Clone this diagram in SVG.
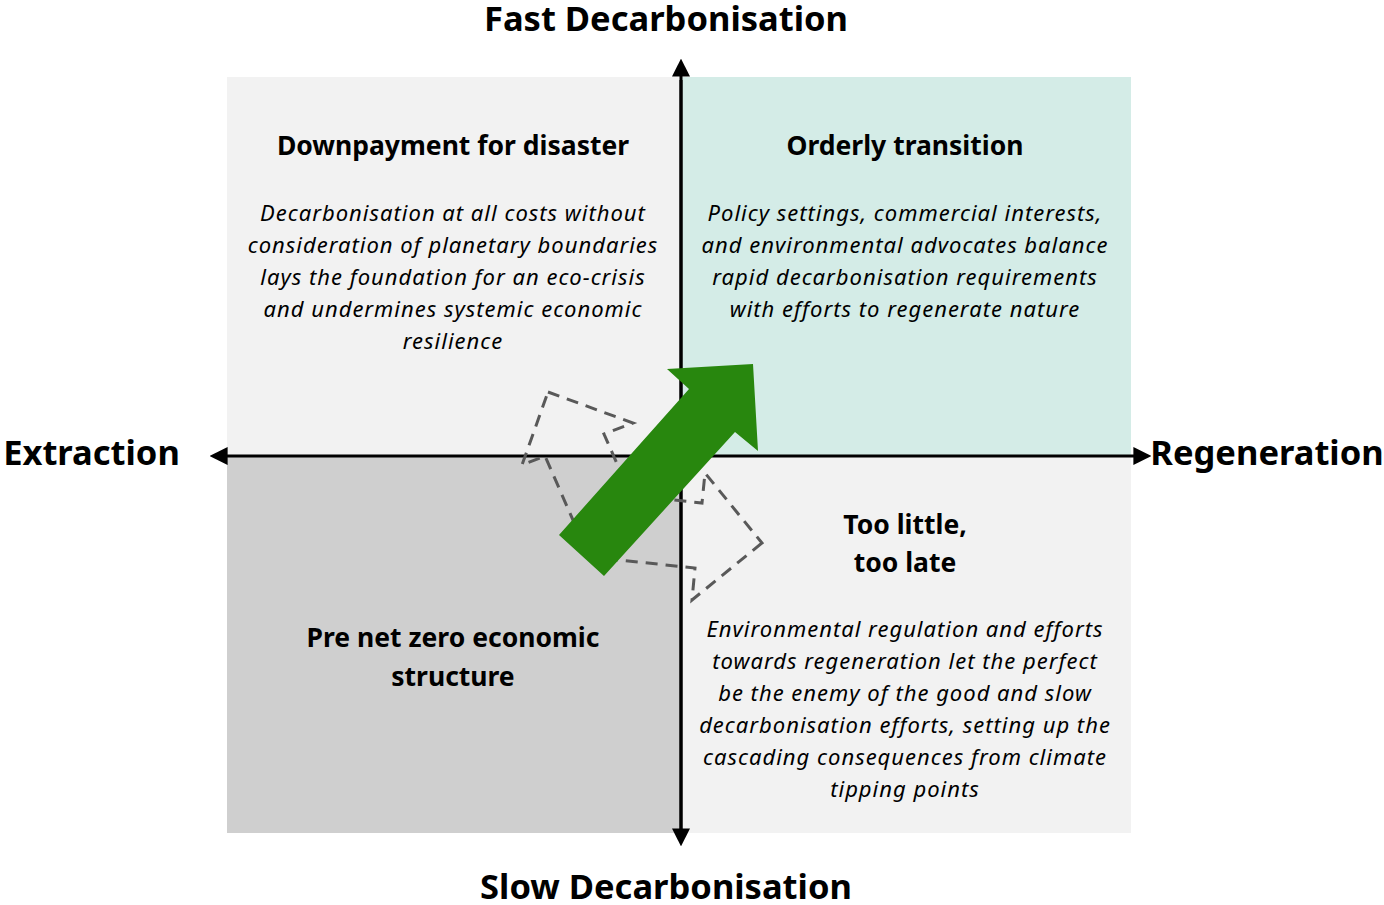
<svg xmlns="http://www.w3.org/2000/svg" width="1384" height="905" viewBox="0 0 1384 905">
  <defs>
    <style>
      .axis { stroke: #000; stroke-width: 3; fill: none; }
      .head { fill: #000; }
      .axis-label { font-family: "Noto Sans", "Open Sans", sans-serif; font-weight: bold; font-size: 34.5px; fill: #000; text-anchor: middle; }
      .title { font-family: "Noto Sans", "Open Sans", sans-serif; font-weight: bold; font-size: 26.5px; fill: #000; text-anchor: middle; }
      .body { font-family: "Noto Sans", "Open Sans", sans-serif; font-style: italic; font-size: 22px; letter-spacing: 1px; fill: #000; text-anchor: middle; }
      .alt { fill: none; stroke: #595959; stroke-width: 3; stroke-dasharray: 12 8; stroke-linejoin: miter; }
      .move { fill: #28870e; }
    </style>
    <marker id="tip" viewBox="0 0 10 10" refX="2" refY="5" markerWidth="6" markerHeight="6" markerUnits="strokeWidth" orient="auto">
      <path d="M0,0 L10,5 L0,10 Z" class="head"/>
    </marker>
  </defs>

  <rect width="1384" height="905" fill="#ffffff"/>

  <!-- quadrants -->
  <g id="downpayment">
    <rect x="227" y="77" width="454" height="379" fill="#f2f2f2"/>
    <text class="title" x="453" y="155">Downpayment for disaster</text>
    <text class="body" x="453" y="221">Decarbonisation at all costs without</text>
    <text class="body" x="453" y="253">consideration of planetary boundaries</text>
    <text class="body" x="453" y="285">lays the foundation for an eco-crisis</text>
    <text class="body" x="453" y="317">and undermines systemic economic</text>
    <text class="body" x="453" y="349">resilience</text>
  </g>

  <g id="orderly">
    <rect x="681" y="77" width="450" height="379" fill="#d4ece7"/>
    <text class="title" x="905" y="155">Orderly transition</text>
    <text class="body" x="905" y="221">Policy settings, commercial interests,</text>
    <text class="body" x="905" y="253">and environmental advocates balance</text>
    <text class="body" x="905" y="285">rapid decarbonisation requirements</text>
    <text class="body" x="905" y="317">with efforts to regenerate nature</text>
  </g>

  <g id="pre-net-zero">
    <rect x="227" y="456" width="454" height="377" fill="#cfcfcf"/>
    <text class="title" x="453" y="647">Pre net zero economic</text>
    <text class="title" x="453" y="686">structure</text>
  </g>

  <g id="too-little">
    <rect x="681" y="456" width="450" height="377" fill="#f2f2f2"/>
    <text class="title" x="905" y="534">Too little,</text>
    <text class="title" x="905" y="572">too late</text>
    <text class="body" x="905" y="637">Environmental regulation and efforts</text>
    <text class="body" x="905" y="669">towards regeneration let the perfect</text>
    <text class="body" x="905" y="701">be the enemy of the good and slow</text>
    <text class="body" x="905" y="733">decarbonisation efforts, setting up the</text>
    <text class="body" x="905" y="765">cascading consequences from climate</text>
    <text class="body" x="905" y="797">tipping points</text>
  </g>

  <!-- axes -->
  <g id="axes">
    <line class="axis" x1="681" y1="835" x2="681" y2="73" marker-end="url(#tip)"/>
    <line class="axis" x1="681" y1="80" x2="681" y2="832" marker-end="url(#tip)"/>
    <line class="axis" x1="681" y1="456" x2="1137" y2="456" marker-end="url(#tip)"/>
    <line class="axis" x1="681" y1="456" x2="224" y2="456" marker-end="url(#tip)"/>
  </g>

  <!-- axis labels -->
  <g id="axis-labels">
    <text class="axis-label" x="666" y="31">Fast Decarbonisation</text>
    <text class="axis-label" x="666" y="899">Slow Decarbonisation</text>
    <text class="axis-label" x="91.5" y="465">Extraction</text>
    <text class="axis-label" x="1267" y="465">Regeneration</text>
  </g>

  <!-- alternative paths (dashed) and the preferred path (solid) -->
  <g id="pathways">
    <polygon class="alt" points="548,392 633,423 604,434 642,521 583,543 545,456 522,465"/>
    <polygon class="alt" points="762,543 692,600 695,568 605.5,558.6 612.5,493.6 702,503 705,473"/>
    <polygon class="move" points="559,535 689,389 667,369 753,364 758,451 735,432 604,576"/>
  </g>
</svg>
